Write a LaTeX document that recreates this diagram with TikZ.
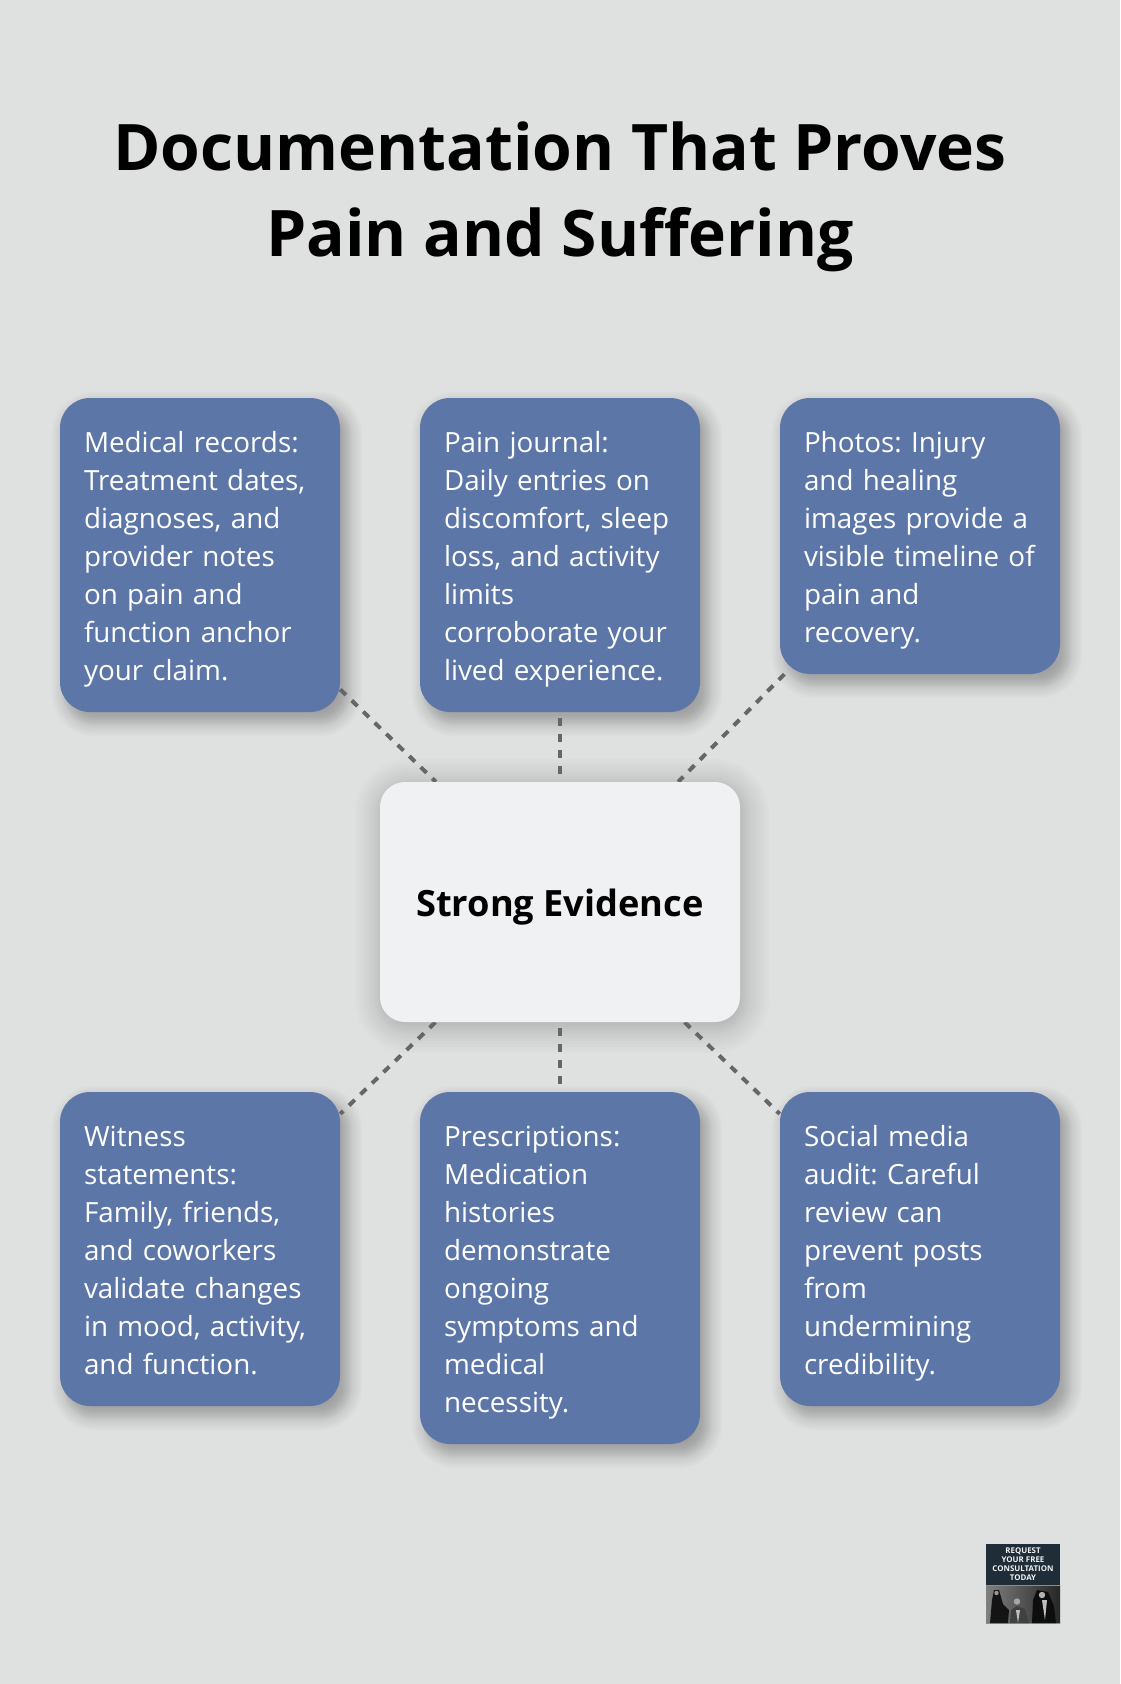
\documentclass[tikz,border=0pt]{standalone}
\usepackage{fontspec}
\setmainfont{Open Sans}
\usetikzlibrary{calc}

\definecolor{pagegrey}{HTML}{DFE1E0}
\definecolor{cardblue}{HTML}{5D76A8}
\definecolor{hubgrey}{HTML}{F0F1F3}
\definecolor{linkgrey}{HTML}{666666}
\definecolor{logodark}{HTML}{1F2D38}
\definecolor{logoorange}{HTML}{C77F35}

\pgfdeclarelayer{shade}
\pgfdeclarelayer{links}
\pgfsetlayers{shade,links,main}

\newcommand{\cardstrut}{\rule[-7.5pt]{0pt}{38pt}}

\tikzset{
  card/.style={fill=cardblue,text=white,rounded corners=30pt,minimum width=280pt,
    inner sep=0pt,text width=232pt,align=left,font=\fontsize{27.8}{38}\selectfont\frenchspacing,
    execute at begin node=\cardstrut,execute at end node=\cardstrut},
  hub/.style={fill=hubgrey,rounded corners=25pt,minimum width=360pt,minimum height=240pt,
    inner sep=0pt,align=center,font=\fontsize{36.2}{40}\selectfont\bfseries},
  link/.style={linkgrey,line width=4pt,dash pattern=on 8pt off 8pt},
  straightlink/.style={link,dash phase=10pt},
}

% soft shadow under a node: name, x offset, y offset, steps, opacity
\newcommand{\softshadow}[5]{
  \foreach \g in {#4}{
    \pgfmathsetmacro{\shadowr}{max(5,28+\g)}
    \fill[black,opacity=#5,rounded corners=\shadowr pt]
      ($(#1.south west)+(#2-\g,#3-\g)$) rectangle ($(#1.north east)+(#2+\g,#3+\g)$);
  }
}

\begin{document}
\begin{tikzpicture}[x=1pt,y=1pt,node distance=0pt]

  \useasboundingbox (0,0) rectangle (1120,-1684);

  \node[font=\fontsize{64.15}{86}\selectfont\bfseries,align=center,inner sep=0pt] (title) at (560,-196.5)
    {Documentation That Proves\\Pain and Suffering};

  \node[hub] (evidence) at (560,-902) {\rule[-5pt]{0pt}{42pt}Strong Evidence};

  \node[card,minimum height=314pt,above of=evidence,yshift=347pt] (journal)
    {Pain journal:\\Daily entries on\\discomfort, sleep\\loss, and activity\\limits\\corroborate your\\lived experience.};
  \node[card,minimum height=314pt,left of=journal,xshift=-360pt] (medical)
    {Medical records:\\Treatment dates,\\diagnoses, and\\provider notes\\on pain and\\function anchor\\your claim.};
  \node[card,minimum height=276pt,right of=journal,xshift=360pt,yshift=19pt] (photos)
    {Photos: Injury\\and healing\\images provide a\\visible timeline of\\pain and\\recovery.};

  \node[card,minimum height=352pt,below of=evidence,yshift=-366pt] (prescriptions)
    {Prescriptions:\\Medication\\histories\\demonstrate\\ongoing\\symptoms and\\medical\\necessity.};
  \node[card,minimum height=314pt,left of=prescriptions,xshift=-360pt,yshift=19pt] (witness)
    {Witness\\statements:\\Family, friends,\\and coworkers\\validate changes\\in mood, activity,\\and function.};
  \node[card,minimum height=314pt,right of=prescriptions,xshift=360pt,yshift=19pt] (social)
    {Social media\\audit: Careful\\review can\\prevent posts\\from\\undermining\\credibility.};

  % logo in the corner
  \node[fill=logodark,text=black!5,minimum width=74pt,minimum height=41pt,inner sep=0pt,align=center,
    font=\fontsize{7.9}{9}\selectfont\bfseries] (logotext) at (1023,-1564.5)
    {REQUEST\\YOUR FREE\\CONSULTATION\\TODAY};
  \node[minimum width=74pt,minimum height=38pt,inner sep=0pt,below of=logotext,yshift=-39.5pt,
    left color=black!50,right color=black!85] (logophoto) {};
  \draw[logoorange,line width=1pt] (logotext.south west) -- (logotext.south east);
  \draw[logoorange,line width=0.7pt] (logophoto.south west) -- (logophoto.south east);
  \fill[black!92] (990,-1623) -- (992,-1600) -- (994,-1590) -- (999,-1590) -- (1003,-1604) -- (1009,-1610) -- (1008,-1623) -- cycle;
  \fill[black!75] (1010,-1623) -- (1011,-1610) -- (1017,-1606) -- (1025,-1609) -- (1029,-1623) -- cycle;
  \fill[black!95] (1032,-1623) -- (1033,-1600) -- (1037,-1590) -- (1048,-1592) -- (1054,-1606) -- (1056,-1623) -- cycle;
  \fill[black!25] (1016,-1610) -- (1020,-1610) -- (1018,-1623) -- cycle;
  \fill[black!25] (1042,-1600) -- (1047,-1600) -- (1045,-1620) -- cycle;
  \fill[black!40] (996.5,-1593) circle (2.2pt);
  \fill[black!35] (1017,-1601.5) circle (3.2pt);
  \fill[black!30] (1042,-1595) circle (3.2pt);

  \begin{pgfonlayer}{shade}
    \fill[pagegrey] (0,0) rectangle (1120,-1684);
    \foreach \n in {medical,journal,photos,witness,prescriptions,social}{
      \softshadow{\n}{7}{-9}{-15,-13,-11,-9,-7,-5,-4,-3,-2,-1,0,1,2,3,4,5,7,9,11,13,15}{0.014}
    }
    \softshadow{evidence}{2}{-4}{-30,-24,-19,-15,-12,-9,-7,-5,-3,-1,1,3,5,7,9,12,15,18,21,24,27}{0.012}
  \end{pgfonlayer}

  \begin{pgfonlayer}{links}
    \draw[link] (medical) to (evidence);
    \draw[straightlink] (journal) to (evidence);
    \draw[link] (photos) to (evidence);
    \draw[link] (evidence) to (witness);
    \draw[straightlink] (evidence) to (prescriptions);
    \draw[link] (evidence) to (social);
  \end{pgfonlayer}

\end{tikzpicture}
\end{document}
